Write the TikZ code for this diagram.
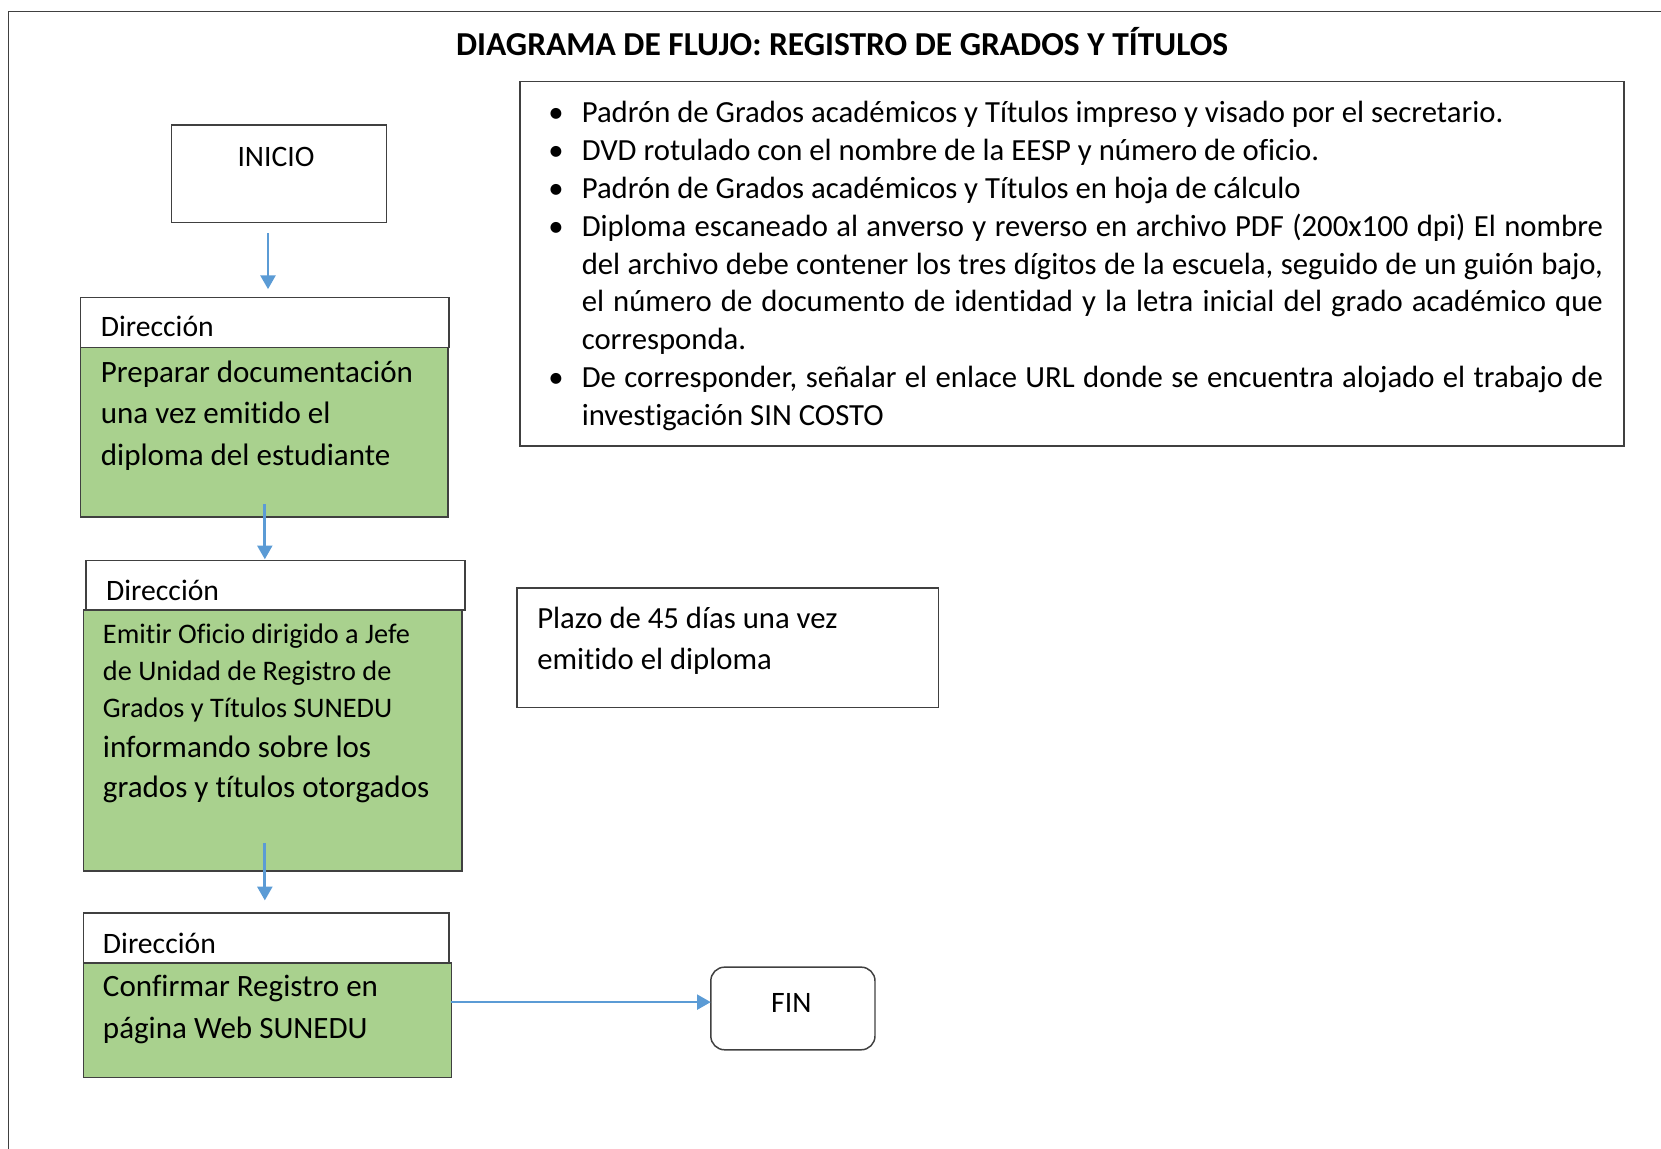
\documentclass[tikz,border=0pt]{standalone}
\usepackage{fontspec}
\setmainfont{Carlito}[Ligatures=NoCommon]
\usetikzlibrary{arrows.meta,calc}
\definecolor{boxgreen}{HTML}{A9D18E}
\definecolor{arrblue}{HTML}{5B9BD5}
\definecolor{framegray}{HTML}{404040}
\begin{document}
\begin{tikzpicture}[x=1pt,y=-1pt,
  box/.style={draw=framegray,line width=1.4pt,anchor=north west,inner sep=0pt,outer sep=0pt},
  greenbox/.style={box,fill=boxgreen},
  arr/.style={draw=arrblue,line width=2.6pt,-{Triangle[width=14pt,length=13pt]}},
  txt/.style={anchor=base west,inner sep=0pt,align=left,font=\fontsize{28}{39}\selectfont},
  gtxt/.style={txt,font=\fontsize{29.3}{39}\selectfont}]
\useasboundingbox (0,0) rectangle (1568,1084);
\draw[framegray,line width=1.4pt] (8,1090) -- (8,11) -- (1575,11);

\node[anchor=base,inner sep=0pt,font=\bfseries\fontsize{31.6}{34}\selectfont] (title) at (795,52) {DIAGRAMA DE FLUJO: REGISTRO DE GRADOS Y TÍTULOS};

% boxes
\node[box,minimum width=203pt,minimum height=92pt] (inicio) at (162,118) {};
\node[box,minimum width=348pt,minimum height=47pt] (h1) at (76,281) {};
\node[greenbox,minimum width=347pt,minimum height=160pt] (b1) at (76,328) {};
\node[box,minimum width=358pt,minimum height=47pt] (h2) at (81,529) {};
\node[greenbox,minimum width=357pt,minimum height=246pt] (b2) at (79,576) {};
\node[box,minimum width=345pt,minimum height=47pt] (h3) at (79,862) {};
\node[greenbox,minimum width=347pt,minimum height=108pt] (b3) at (79,909) {};
\node[box,rounded corners=13pt,minimum width=155pt,minimum height=78pt] (fin) at (671,913) {};
\node[box,minimum width=1042pt,minimum height=344pt] (listbox) at (491,77) {};
\node[box,minimum width=398pt,minimum height=113pt] (plazo) at (488,555) {};

% texts (multi-line nodes are placed at the baseline of their last line)
\node[txt] (tinicio) at (224,157) {INICIO};
\node[txt] (th1) at (95,318) {Dirección};
\node[gtxt] (tb1) at (95,439) {Preparar documentación\\una vez emitido el\\diploma del estudiante};
\node[txt] (th2) at (100,567) {Dirección};
\node[txt,font=\fontsize{26.7}{35}\selectfont] (tb2a) at (97,677) {Emitir Oficio dirigido a Jefe\\de Unidad de Registro de\\Grados y Títulos SUNEDU};
\node[txt,font=\fontsize{29.3}{38}\selectfont] (tb2b) at (97,753) {informando sobre los\\grados y títulos otorgados};
\node[txt] (th3) at (97,900) {Dirección};
\node[gtxt] (tb3) at (97,980) {Confirmar Registro en\\página Web SUNEDU};
\node[anchor=base,inner sep=0pt,font=\fontsize{28}{39}\selectfont] (tfin) at (747,956) {FIN};
\node[txt,font=\fontsize{29}{39}\selectfont] (tplazo) at (507,632) {Plazo de 45 días una vez\\emitido el diploma};

\node[anchor=base west,inner sep=0pt,text width=964pt,align=justify,
      font=\fontsize{29}{35.7}\selectfont] (tlist) at (549,116) {%
\emergencystretch=20pt
\leavevmode\llap{\textbullet\hspace{17pt}}Padrón de Grados académicos y Títulos impreso y visado por el secretario.\par
\leavevmode\llap{\textbullet\hspace{17pt}}DVD rotulado con el nombre de la EESP y número de oficio.\par
\leavevmode\llap{\textbullet\hspace{17pt}}Padrón de Grados académicos y Títulos en hoja de cálculo\par
\leavevmode\llap{\textbullet\hspace{17pt}}Diploma escaneado al anverso y reverso en archivo PDF (200x100 dpi) El nombre\linebreak
del archivo debe contener los tres dígitos de la escuela, seguido de un guión bajo,\linebreak
el número de documento de identidad y la letra inicial del grado académico que\linebreak
corresponda.\par
\leavevmode\llap{\textbullet\hspace{17pt}}De corresponder, señalar el enlace URL donde se encuentra alojado el trabajo de\linebreak
investigación SIN COSTO};

% connectors
\draw[arr] ([shift={(-10.5,10)}]inicio.south) -- ([shift={(3,-8)}]h1.north);
\draw[arr] ([shift={(0.5,-12)}]b1.south) -- ([shift={(-10,-1)}]h2.north);
\draw[arr] ([shift={(-7.5,-26)}]b2.south) -- ([shift={(-1.5,-12)}]h3.north);
\draw[arr] ([shift={(0,-17)}]b3.east) -- ([shift={(0,-6)}]fin.west);
\end{tikzpicture}
\end{document}
